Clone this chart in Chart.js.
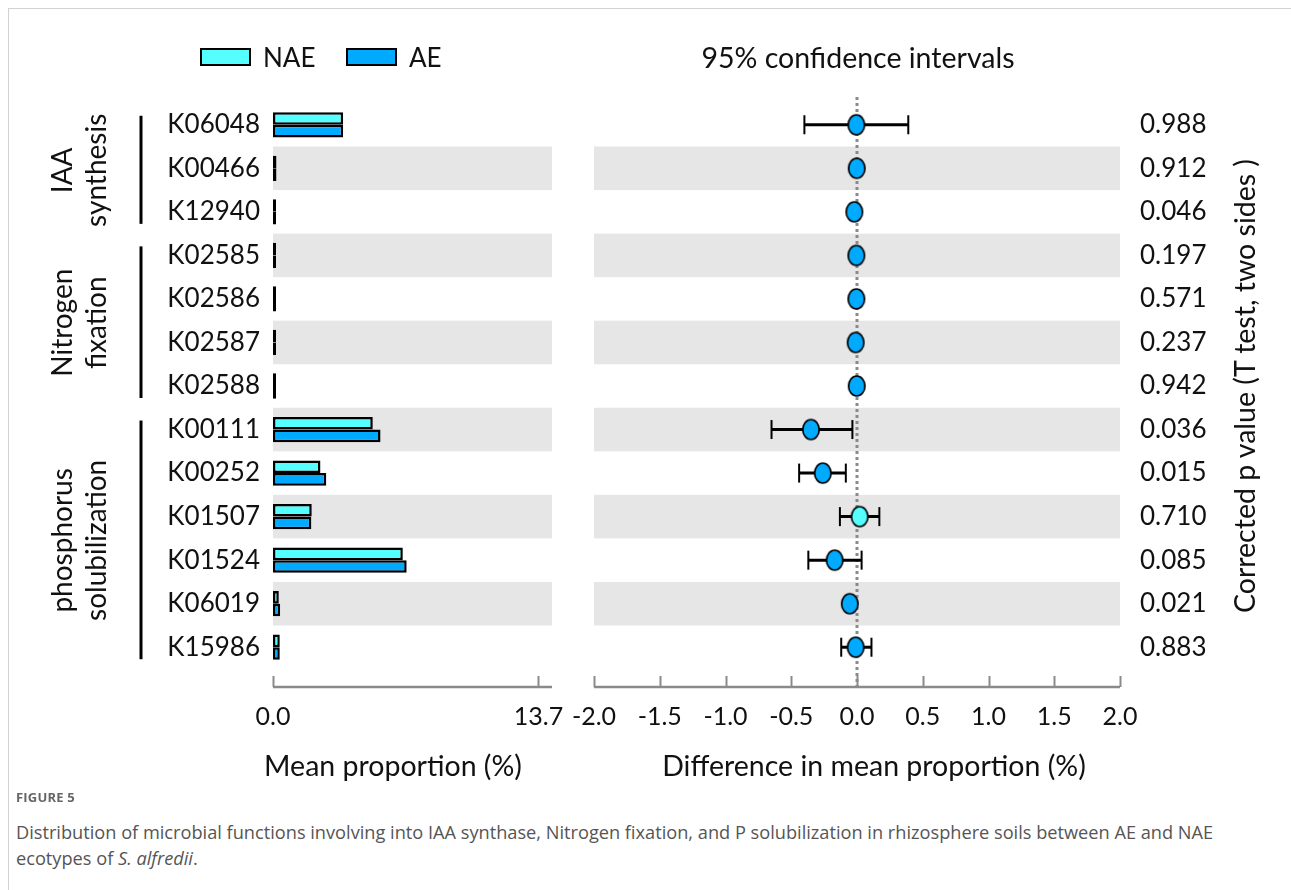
<!DOCTYPE html>
<html lang="en">
<head>
<meta charset="utf-8">
<title>IAA synthesis, nitrogen fixation and phosphorus solubilization genes</title>
<script src="https://cdn.jsdelivr.net/npm/chart.js@4.4.1/dist/chart.umd.min.js"></script>
<style>
  html, body { margin: 0; padding: 0; background: #fff; }
  #fig { position: relative; width: 1291px; height: 890px; overflow: hidden; font-family: Lato, "Open Sans", sans-serif; color: #111; }
  #frame { position: absolute; left: 8px; top: 8px; width: 1300px; height: 900px; border-left: 1px solid #d2d2d2; border-top: 1px solid #d2d2d2; }
  canvas { position: absolute; top: 0; }
  #leftChart { left: 0; }
  #rightChart { left: 540px; }
  .txt { position: absolute; white-space: nowrap; font-size: 26px; line-height: 30px; }
  .big { font-size: 28.5px; }
  .swatch { position: absolute; top: 48px; width: 47px; height: 14px; border: 2.5px solid #000; }
  .center { text-align: center; }
  #pTitle { left: 944px; top: 371px; width: 600px; text-align: center; transform: rotate(-90deg); }
  #capHead { position: absolute; left: 16px; top: 788px; font: 700 13px "Open Sans", sans-serif; color: #666; letter-spacing: 0.2px; }
  #capText { position: absolute; left: 16px; top: 819px; font: 18.2px/26px "Open Sans", sans-serif; color: #555; white-space: nowrap; }
</style>
</head>
<body>
<div id="fig">
  <div id="frame"></div>
  <canvas id="leftChart" width="570" height="800"></canvas>
  <canvas id="rightChart" width="751" height="800"></canvas>

  <div class="swatch" id="swNAE" style="left:200px;"></div>
  <div class="txt" style="left:263px; top:42px;">NAE</div>
  <div class="swatch" id="swAE" style="left:346px;"></div>
  <div class="txt" style="left:409px; top:42px;">AE</div>

  <div class="txt big center" style="left:658px; top:42px; width:400px;">95% confidence intervals</div>
  <div class="txt big center" style="left:193px; top:750px; width:400px;">Mean proportion (%)</div>
  <div class="txt big center" style="left:624px; top:750px; width:500px;">Difference in mean proportion (%)</div>
  <div class="txt big" id="pTitle">Corrected p value (T test, two sides )</div>

  <div id="capHead">FIGURE 5</div>
  <div id="capText">Distribution of microbial functions involving into IAA synthase, Nitrogen fixation, and P solubilization in rhizosphere soils between AE and NAE<br>ecotypes of <i>S. alfredii</i>.</div>
</div>

<script>
// KEGG orthologs, top to bottom
const categories = ['K06048', 'K00466', 'K12940', 'K02585', 'K02586', 'K02587', 'K02588',
                    'K00111', 'K00252', 'K01507', 'K01524', 'K06019', 'K15986'];

// mean proportion (%) in each ecotype
const naeMean = [3.62, 0.18, 0.06, 0.05, 0.05, 0.05, 0.05, 5.15, 2.45, 2.00, 6.70, 0.30, 0.35];
const aeMean  = [3.62, 0.18, 0.06, 0.05, 0.05, 0.05, 0.05, 5.55, 2.75, 1.98, 6.90, 0.37, 0.35];

// difference in mean proportion (%) and its 95% confidence interval
const diffMean = [-0.005, -0.002, -0.020, -0.005, -0.005, -0.010, -0.002, -0.350, -0.260, 0.020, -0.170, -0.055, -0.010];
const ciLower  = [-0.400, -0.012, -0.030, -0.015, -0.015, -0.020, -0.012, -0.650, -0.440, -0.130, -0.370, -0.075, -0.120];
const ciUpper  = [ 0.390,  0.008, -0.010,  0.005,  0.005,  0.000,  0.008, -0.035, -0.085, 0.170,  0.035, -0.035,  0.110];

// corrected p values (T test, two sides)
const pValues = ['0.988', '0.912', '0.046', '0.197', '0.571', '0.237', '0.942',
                 '0.036', '0.015', '0.710', '0.085', '0.021', '0.883'];

const proportionTicks = [0, 13.7];
const differenceTicks = [-2, -1.5, -1, -0.5, 0, 0.5, 1, 1.5, 2];

// functional groups: label lines, first and last row
const groupNames = [['IAA', 'synthesis'], ['Nitrogen', 'fixation'], ['phosphorus', 'solubilization']];
const groupFirst = [0, 3, 7];
const groupLast  = [2, 6, 12];

const NAE_COLOR = '#55ffff';
const AE_COLOR = '#00aaff';
const BAND_COLOR = '#e6e6e6';
const AXIS_COLOR = '#8a8a8a';
const TEXT_COLOR = '#111';

document.getElementById('swNAE').style.background = NAE_COLOR;
document.getElementById('swAE').style.background = AE_COLOR;

Chart.defaults.font.family = 'Lato, "Open Sans", sans-serif';
Chart.defaults.color = TEXT_COLOR;

const AREA_TOP = 103;
const CANVAS_H = 800;
const AREA_BOTTOM = 669;

function rowPitch(scale) {
  return scale.getPixelForValue(1) - scale.getPixelForValue(0);
}

// fixed-size bottom axis that asks the layout for no side padding
function fitBottomAxis(s) {
  s.height = CANVAS_H - AREA_BOTTOM;
  s.paddingLeft = 0;
  s.paddingRight = 0;
}

// alternating grey row bands
function drawBands(chart) {
  const { ctx, chartArea: a } = chart;
  const y = chart.scales.y;
  const h = rowPitch(y);
  ctx.save();
  ctx.fillStyle = BAND_COLOR;
  categories.forEach((c, i) => {
    if (i % 2 === 1) {
      const cy = y.getPixelForValue(i);
      ctx.fillRect(a.left, cy - h / 2, a.right - a.left, h);
    }
  });
  ctx.restore();
}

// detached bottom axis line with upward ticks
function drawAxisLine(chart, tickValues) {
  const { ctx, chartArea: a } = chart;
  const x = chart.scales.x;
  const yLine = a.bottom + 18;
  ctx.save();
  ctx.strokeStyle = AXIS_COLOR;
  ctx.lineWidth = 2.5;
  ctx.beginPath();
  ctx.moveTo(a.left, yLine);
  ctx.lineTo(a.right, yLine);
  ctx.stroke();
  ctx.lineWidth = 2;
  tickValues.forEach(v => {
    const px = Math.round(x.getPixelForValue(v)) + 0.5;
    ctx.beginPath();
    ctx.moveTo(px, yLine);
    ctx.lineTo(px, yLine - 11);
    ctx.stroke();
  });
  ctx.restore();
}

const leftDecor = {
  id: 'leftDecor',
  beforeDatasetsDraw(chart) {
    drawBands(chart);
  },
  afterDraw(chart) {
    drawAxisLine(chart, proportionTicks);
    const { ctx } = chart;
    const y = chart.scales.y;
    ctx.save();
    groupNames.forEach((lines, g) => {
      const top = y.getPixelForValue(groupFirst[g]) - 9;
      const bottom = y.getPixelForValue(groupLast[g]) + 12;
      ctx.fillStyle = '#000';
      ctx.fillRect(139.5, top, 3, bottom - top);
      const mid = (y.getPixelForValue(groupFirst[g]) + y.getPixelForValue(groupLast[g])) / 2 + 2;
      ctx.save();
      ctx.translate(0, mid);
      ctx.rotate(-Math.PI / 2);
      ctx.font = '28px Lato, "Open Sans", sans-serif';
      ctx.fillStyle = TEXT_COLOR;
      ctx.textAlign = 'center';
      ctx.textBaseline = 'middle';
      ctx.fillText(lines[0], 0, 63);
      ctx.fillText(lines[1], 0, 97);
      ctx.restore();
    });
    ctx.restore();
  }
};

const rightDecor = {
  id: 'rightDecor',
  beforeDatasetsDraw(chart) {
    drawBands(chart);
    const { ctx, chartArea: a } = chart;
    const x = chart.scales.x;
    const y = chart.scales.y;
    // dotted zero reference line
    const x0 = x.getPixelForValue(0);
    ctx.save();
    ctx.strokeStyle = AXIS_COLOR;
    ctx.lineWidth = 3;
    ctx.setLineDash([3, 3]);
    ctx.beginPath();
    ctx.moveTo(x0, a.top - 6);
    ctx.lineTo(x0, a.bottom + 18);
    ctx.stroke();
    ctx.restore();
    // confidence interval whiskers
    ctx.save();
    ctx.strokeStyle = '#000';
    categories.forEach((c, i) => {
      const cy = y.getPixelForValue(i);
      const lo = x.getPixelForValue(ciLower[i]);
      const hi = x.getPixelForValue(ciUpper[i]);
      ctx.lineWidth = 3;
      ctx.beginPath();
      ctx.moveTo(lo, cy);
      ctx.lineTo(hi, cy);
      ctx.stroke();
      ctx.lineWidth = 2;
      [lo, hi].forEach(px => {
        ctx.beginPath();
        ctx.moveTo(px, cy - 9.5);
        ctx.lineTo(px, cy + 9.5);
        ctx.stroke();
      });
    });
    ctx.restore();
  },
  afterDraw(chart) {
    drawAxisLine(chart, differenceTicks);
  }
};

// oval markers for the mean difference
function ovalDot(fill) {
  const c = document.createElement('canvas');
  c.width = 20;
  c.height = 24;
  const g = c.getContext('2d');
  g.beginPath();
  g.ellipse(10, 12, 8.2, 10, 0, 0, Math.PI * 2);
  g.fillStyle = fill;
  g.fill();
  g.lineWidth = 1.7;
  g.strokeStyle = '#000';
  g.stroke();
  return c;
}
const naeDot = ovalDot(NAE_COLOR);
const aeDot = ovalDot(AE_COLOR);

const barStyle = {
  borderColor: '#000',
  borderWidth: 2.5,
  borderSkipped: false,
  minBarLength: 3,
  barPercentage: 1,
  categoryPercentage: 0.58
};

new Chart(document.getElementById('leftChart'), {
  type: 'bar',
  data: {
    labels: categories,
    datasets: [
      Object.assign({ label: 'NAE', data: naeMean, backgroundColor: NAE_COLOR }, barStyle),
      Object.assign({ label: 'AE', data: aeMean, backgroundColor: AE_COLOR }, barStyle)
    ]
  },
  options: {
    indexAxis: 'y',
    responsive: false,
    animation: false,
    layout: { padding: { top: AREA_TOP, right: 18, left: 0, bottom: 0 } },
    plugins: { legend: { display: false }, tooltip: { enabled: false } },
    scales: {
      x: {
        type: 'linear',
        min: 0,
        max: 14.4,
        afterBuildTicks: s => { s.ticks = proportionTicks.map(v => ({ value: v })); },
        afterFit: fitBottomAxis,
        ticks: { callback: v => Number(v).toFixed(1), padding: 33, font: { size: 25 }, color: TEXT_COLOR, maxRotation: 0, autoSkip: false },
        grid: { display: false, drawTicks: false },
        border: { display: false }
      },
      y: {
        afterFit: s => { s.width = 273; },
        ticks: { padding: 13, font: { size: 26 }, color: TEXT_COLOR, autoSkip: false },
        grid: { display: false, drawTicks: false },
        border: { display: false }
      }
    }
  },
  plugins: [leftDecor]
});

new Chart(document.getElementById('rightChart'), {
  type: 'scatter',
  data: {
    datasets: [{
      label: 'Difference in mean proportion',
      data: categories.map((c, i) => ({ x: diffMean[i], y: c })),
      yAxisID: 'y',
      pointStyle: diffMean.map(v => (v > 0 ? naeDot : aeDot)),
      pointRadius: 10
    }]
  },
  options: {
    responsive: false,
    animation: false,
    layout: { padding: { top: AREA_TOP, right: 0, left: 54, bottom: 0 } },
    plugins: { legend: { display: false }, tooltip: { enabled: false } },
    scales: {
      x: {
        type: 'linear',
        min: -2,
        max: 2,
        afterBuildTicks: s => { s.ticks = differenceTicks.map(v => ({ value: v })); },
        afterFit: fitBottomAxis,
        ticks: { callback: v => Number(v).toFixed(1), padding: 33, font: { size: 25 }, color: TEXT_COLOR, maxRotation: 0, autoSkip: false },
        grid: { display: false, drawTicks: false },
        border: { display: false }
      },
      y: { type: 'category', labels: categories, offset: true, display: false },
      p: {
        type: 'category',
        labels: pValues,
        position: 'right',
        offset: true,
        afterFit: s => { s.width = 171; },
        ticks: { padding: 20, font: { size: 26 }, color: TEXT_COLOR, autoSkip: false },
        grid: { display: false, drawTicks: false },
        border: { display: false }
      }
    }
  },
  plugins: [rightDecor]
});
</script>
</body>
</html>
